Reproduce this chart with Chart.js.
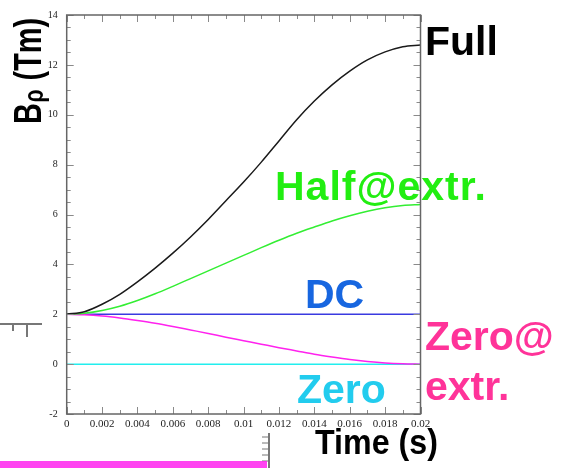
<!DOCTYPE html>
<html>
<head>
<meta charset="utf-8">
<script src="https://cdn.jsdelivr.net/npm/chart.js@4.4.1/dist/chart.umd.min.js"></script>
<style>
    html, body { margin: 0; padding: 0; background: #fff; }
    canvas { display: block; }
</style>
</head>
<body>
<canvas id="bRhoChart" width="566" height="468"></canvas>
<script>
// time axis (s)
const times = [0, 0.001, 0.002, 0.003, 0.004, 0.005, 0.006, 0.007, 0.008, 0.009, 0.010,
               0.011, 0.012, 0.013, 0.014, 0.015, 0.016, 0.017, 0.018, 0.019, 0.020];

// B-rho (Tm) for each ramp scenario
const fullRamp = [2, 2.1, 2.4, 2.8, 3.3, 3.85, 4.45, 5.1, 5.8, 6.55, 7.3,
                  8.1, 8.95, 9.8, 10.55, 11.2, 11.75, 12.2, 12.52, 12.73, 12.8];
const halfAtExtr = [2, 2.04, 2.15, 2.32, 2.55, 2.82, 3.12, 3.43, 3.74, 4.05, 4.36,
                    4.67, 4.97, 5.25, 5.5, 5.74, 5.95, 6.13, 6.27, 6.36, 6.4];
const dcRamp = [2, 2, 2, 2, 2, 2, 2, 2, 2, 2, 2, 2, 2, 2, 2, 2, 2, 2, 2, 2, 2];
const zeroAtExtr = [2, 1.98, 1.93, 1.85, 1.75, 1.64, 1.51, 1.37, 1.23, 1.08, 0.94,
                    0.8, 0.66, 0.53, 0.4, 0.29, 0.19, 0.11, 0.05, 0.015, 0];
const zeroRamp = [0, 0, 0, 0, 0, 0, 0, 0, 0, 0, 0, 0, 0, 0, 0, 0, 0, 0, 0, 0, 0];

const xTicks = [0, 0.002, 0.004, 0.006, 0.008, 0.01, 0.012, 0.014, 0.016, 0.018, 0.02];
const yTicks = [-2, 0, 2, 4, 6, 8, 10, 12, 14];

function toPoints(values) {
    return values.map((v, i) => ({ x: times[i], y: v }));
}

// tick marks pointing into the frame, plus the frame itself
const frameTicks = {
    id: 'frameTicks',
    afterDatasetsDraw(chart) {
        const { ctx, chartArea: a, scales } = chart;
        const xs = scales.x, ys = scales.y;
        ctx.save();
        ctx.strokeStyle = '#8a8a8a';
        ctx.lineWidth = 1;
        ctx.beginPath();
        for (let v = -2; v <= 14.001; v += 0.5) {
            const py = Math.round(ys.getPixelForValue(v)) + 0.5;
            const len = Math.abs(v % 2) < 0.01 ? 7 : 4;
            ctx.moveTo(a.left, py); ctx.lineTo(a.left + len, py);
            ctx.moveTo(a.right, py); ctx.lineTo(a.right - len, py);
        }
        for (let k = 0; k <= 20; k++) {
            const px = Math.round(xs.getPixelForValue(k * 0.001)) + 0.5;
            const len = k % 2 === 0 ? 7 : 4;
            ctx.moveTo(px, a.bottom); ctx.lineTo(px, a.bottom - len);
            ctx.moveTo(px, a.top); ctx.lineTo(px, a.top + len);
        }
        ctx.stroke();
        ctx.strokeStyle = '#666';
        ctx.lineWidth = 1.5;
        ctx.strokeRect(a.left, a.top, a.right - a.left, a.bottom - a.top);
        ctx.restore();
    }
};

// slide labels around the plot
const slideLabels = {
    id: 'slideLabels',
    afterDraw(chart) {
        const ctx = chart.ctx;
        ctx.save();
        ctx.textBaseline = 'alphabetic';
        ctx.textAlign = 'left';
        const big = 'bold 41px "Liberation Sans", Arial, sans-serif';
        const put = (txt, x, y, color, font) => {
            ctx.font = font || big;
            ctx.fillStyle = color;
            ctx.fillText(txt, x, y);
        };
        put('Full', 425, 55, '#000');
        ctx.letterSpacing = '1px';
        put('Half@extr.', 275, 200, '#22ee11');
        ctx.letterSpacing = '0px';
        put('DC', 305, 308, '#1766e0');
        put('Zero@', 425, 350, '#ff3399');
        put('extr.', 425, 400, '#ff3399');
        put('Zero', 297, 403, '#22ccee');

        // x title
        ctx.save();
        ctx.translate(315, 454);
        ctx.scale(0.92, 1);
        put('Time (s)', 0, 0, '#000', 'bold 35px "Liberation Sans", Arial, sans-serif');
        ctx.restore();

        // y title, rotated
        ctx.save();
        ctx.translate(41, 124);
        ctx.rotate(-Math.PI / 2);
        ctx.scale(0.76, 1);
        put('B', 0, 0, '#000', 'bold 38px "Liberation Sans", Arial, sans-serif');
        const bw = ctx.measureText('B').width;
        put('\u03c1', bw + 1, 2, '#000', 'bold 28px "Liberation Sans", Arial, sans-serif');
        const rw = ctx.measureText('\u03c1').width;
        put(' (Tm)', bw + rw + 2, 0, '#000', 'bold 38px "Liberation Sans", Arial, sans-serif');
        ctx.restore();

        // cropped pieces of neighbouring slide content
        ctx.strokeStyle = '#777';
        ctx.lineWidth = 2;
        ctx.beginPath();
        ctx.moveTo(0, 324); ctx.lineTo(42, 324);
        ctx.moveTo(27, 324); ctx.lineTo(27, 337);
        ctx.moveTo(13, 324); ctx.lineTo(13, 331);
        ctx.moveTo(269, 433); ctx.lineTo(269, 468);
        ctx.stroke();
        ctx.lineWidth = 1;
        ctx.beginPath();
        [437, 443, 449, 455, 461].forEach(y => { ctx.moveTo(262, y); ctx.lineTo(269, y); });
        ctx.stroke();
        ctx.fillStyle = 'rgba(255, 34, 238, 0.85)';
        ctx.fillRect(0, 461, 267, 7);
        ctx.restore();
    }
};

const lineStyle = {
    pointRadius: 0,
    borderWidth: 1.5,
    fill: false,
    cubicInterpolationMode: 'monotone'
};

const ctx = document.getElementById('bRhoChart').getContext('2d');
new Chart(ctx, {
    type: 'line',
    data: {
        datasets: [
            { label: 'Full', data: toPoints(fullRamp), borderColor: '#1a1a1a', ...lineStyle },
            { label: 'Half@extr.', data: toPoints(halfAtExtr), borderColor: '#33ee33', ...lineStyle },
            { label: 'Zero@extr.', data: toPoints(zeroAtExtr), borderColor: '#ff22ee', ...lineStyle },
            { label: 'DC', data: toPoints(dcRamp), borderColor: '#3a3ae0', ...lineStyle },
            { label: 'Zero', data: toPoints(zeroRamp), borderColor: '#22eeee', ...lineStyle }
        ]
    },
    options: {
        responsive: false,
        animation: false,
        devicePixelRatio: 1,
        layout: { padding: { top: 14, right: 145.5, left: 0, bottom: 0 } },
        plugins: {
            legend: { display: false },
            tooltip: { enabled: false }
        },
        scales: {
            x: {
                type: 'linear',
                min: 0,
                max: 0.02,
                grid: { display: false, drawTicks: false },
                border: { display: false },
                afterBuildTicks: (scale) => { scale.ticks = xTicks.map(v => ({ value: v })); },
                afterFit: (scale) => { scale.height = 54; },
                ticks: {
                    padding: 4,
                    maxRotation: 0,
                    autoSkip: false,
                    color: '#222',
                    font: { family: '"Liberation Serif", "Times New Roman", serif', size: 11 },
                    callback: (v) => String(+v.toFixed(3))
                }
            },
            y: {
                min: -2,
                max: 14,
                grid: { display: false, drawTicks: false },
                border: { display: false },
                afterBuildTicks: (scale) => { scale.ticks = yTicks.map(v => ({ value: v })); },
                afterFit: (scale) => { scale.width = 66.7; },
                ticks: {
                    padding: 9,
                    color: '#222',
                    font: { family: '"Liberation Serif", "Times New Roman", serif', size: 10 }
                }
            }
        }
    },
    plugins: [frameTicks, slideLabels]
});
</script>
</body>
</html>
